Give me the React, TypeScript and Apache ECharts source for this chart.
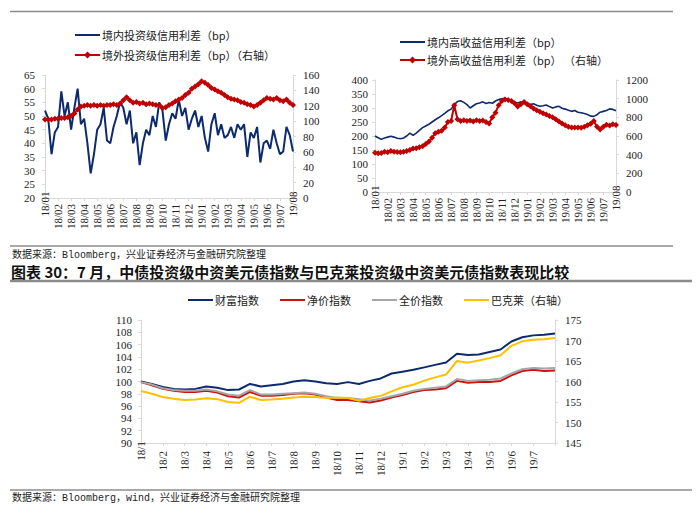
import React, { useEffect, useRef } from "react";
import * as echarts from "echarts";

const topMonthLabels = ["18/01","18/02","18/03","18/04","18/05","18/06","18/07","18/08","18/09","18/10","18/11","18/12","19/01","19/02","19/03","19/04","19/05","19/06","19/07","19/08"];
const bottomMonthLabels = ["18/1","18/2","18/3","18/4","18/5","18/6","18/7","18/8","18/9","18/10","18/11","18/12","19/1","19/2","19/3","19/4","19/5","19/6","19/7",""];

// weekly-ish (quarter month) values, top-left chart
const igDomestic = [52,49,36,44, 46,59,50,55, 45,53,60,47, 49,40,29,36, 45,47,53,41, 40,46,50,55, 53,47,52,40, 44,32,40,45, 43,50,46,55, 52,41,47,51, 49,56,50,53, 45,49,52,46, 50,42,37,47, 51,43,47,42, 43,46,42,47, 45,47,35,44, 42,46,33,40, 41,38,45,40, 36,37,46,43, 37];
const igOffshore = [102,102,102,103, 103,104,104,105, 107,110,115,119, 120,121,120,121, 120,121,120,121, 121,122,121,123, 127,131,127,124, 125,123,124,122, 123,122,121,121, 117,118,121,123, 126,128,130,134, 137,142,145,148, 152,150,147,143, 141,139,137,134, 131,129,128,127, 125,124,122,121, 119,121,124,127, 130,129,128,130, 127,126,128,124, 121];

// top-right chart
const hyDomestic = [200,194,188,193, 196,199,196,192, 190,193,200,210, 202,210,220,230, 236,242,250,258, 265,273,281,290, 296,312,323,326, 320,312,300,308, 315,318,322,316, 320,317,325,330, 333,335,328,325, 320,318,322,316, 318,312,315,310, 306,308,311,305, 300,304,306,299, 296,292,288,291, 285,283,280,277, 271,270,276,285, 288,291,297,295, 290];
const hyOffshore = [420,415,418,430, 425,440,430,428, 425,432,440,450, 465,470,480,490, 515,540,580,630, 645,655,690,750, 760,930,780,760, 770,760,765,755, 770,760,765,750, 735,800,850,930, 975,990,985,975, 950,915,940,965, 940,920,895,875, 860,845,830,815, 800,780,755,735, 715,700,690,692, 690,688,700,715, 730,760,700,670, 700,720,712,725, 718];

// bottom chart (half month)
const wealthIndex = [100.0,99.6,99.1,98.8,98.7,98.8,99.2,99.0,98.6,98.7,99.6,99.2,99.4,99.6,100.0,100.2,100.0,99.7,99.6,99.9,99.6,100.1,100.5,101.3,101.6,101.9,102.3,102.7,103.1,104.5,104.3,104.4,104.8,105.2,106.5,107.2,107.5,107.6,107.8];
const netPriceIndex = [99.9,99.4,98.8,98.5,98.3,98.3,98.5,98.2,97.6,97.4,98.3,97.7,97.7,97.8,98.0,98.1,97.9,97.4,97.0,97.0,96.8,96.6,96.9,97.4,97.8,98.3,98.6,98.7,98.9,100.1,99.8,99.9,99.9,100.1,101.0,101.7,101.9,101.7,101.8];
const fullPriceIndex = [99.9,99.5,98.9,98.6,98.5,98.5,98.7,98.4,97.9,97.7,98.6,97.9,97.9,98.0,98.1,98.2,98.0,97.6,97.3,97.3,97.1,96.9,97.2,97.6,98.0,98.5,98.8,99.0,99.2,100.4,100.1,100.2,100.3,100.5,101.3,102.0,102.2,102.1,102.2];
const barclaysIndex = [157.7,157.0,156.2,155.8,155.5,155.6,155.9,155.7,155.0,154.8,156.3,155.5,155.6,155.8,156.1,156.3,156.2,156.0,156.1,156.0,155.3,156.0,156.5,157.6,158.6,159.2,160.2,161.0,161.7,165.0,164.6,165.1,165.7,166.4,168.7,169.8,170.2,170.3,170.6];

const pairs = (arr: number[], step: number) => arr.map((v, i) => [i * step, v]);

const NAVY = "#0d2a6e";
const RED = "#c00000";
const RED2 = "#cc1111";
const GRAY = "#a6a6a6";
const YELLOW = "#ffc000";
const AXIS = "#d9d9d9";
const SERIF = '"Liberation Serif", serif';
const CJK = '"Noto Sans CJK SC", sans-serif';

// hidden value axis that positions the data
function dataAxisX(gridIndex: number) {
  return { type: "value", gridIndex, min: 0, max: 19, show: false, axisLabel: { show: false }, splitLine: { show: false } };
}
// visible month axis that draws line, ticks and labels
function monthAxisX(gridIndex: number, labels: string[], labelMargin: number) {
  return {
    type: "category", gridIndex, data: labels, boundaryGap: false, position: "bottom",
    axisLine: { show: true, lineStyle: { color: AXIS } },
    axisTick: { show: true, length: 3, interval: 0, lineStyle: { color: AXIS } },
    splitLine: { show: false },
    axisLabel: {
      show: true, rotate: 89.9, interval: 0, margin: labelMargin, fontFamily: SERIF, fontSize: 11, color: "#222",
      showMinLabel: true, showMaxLabel: true, hideOverlap: false, alignMaxLabel: "center", alignMinLabel: "center",
    },
  };
}
function yAxis(gridIndex: number, min: number, max: number, interval: number, position: string, margin: number) {
  return {
    type: "value", gridIndex, min, max, interval, position,
    axisLine: { show: true, lineStyle: { color: AXIS } },
    axisTick: { show: true, length: 3, lineStyle: { color: AXIS } },
    splitLine: { show: false },
    axisLabel: { margin, fontFamily: SERIF, fontSize: 11, color: "#222", showMinLabel: true, showMaxLabel: true, hideOverlap: false, formatter: (v: number) => String(v) },
  };
}

function legendLine(x: number, y: number, color: string, label: string, diamond: boolean) {
  const els: any[] = [
    { type: "line", shape: { x1: x, y1: y, x2: x + 25, y2: y }, style: { stroke: color, lineWidth: 2 } },
  ];
  if (diamond) {
    els.push({ type: "polygon", shape: { points: [[x + 12.5, y - 3.5], [x + 16, y], [x + 12.5, y + 3.5], [x + 9, y]] }, style: { fill: color } });
  }
  els.push({ type: "text", style: { text: label, x: x + 27, y, font: `11px ${CJK}`, fill: "#222", verticalAlign: "middle", textVerticalAlign: "middle" } });
  return els;
}

export default function App() {
  const ref = useRef<HTMLDivElement>(null);
  useEffect(() => {
    const chart = echarts.init(ref.current!, undefined, { renderer: "svg" });
    const option: any = {
      animation: false,
      backgroundColor: "#fff",
      grid: [
        { left: 45, top: 75, width: 248, height: 123, containLabel: false, outerBoundsMode: "none" },
        { left: 375, top: 80, width: 241, height: 112, containLabel: false, outerBoundsMode: "none" },
        { left: 141, top: 320, width: 414, height: 123, containLabel: false, outerBoundsMode: "none" },
      ],
      xAxis: [
        dataAxisX(0),
        dataAxisX(1),
        dataAxisX(2),
        monthAxisX(0, topMonthLabels, 6),
        monthAxisX(1, topMonthLabels, 6),
        monthAxisX(2, bottomMonthLabels, 8),
      ],
      yAxis: [
        yAxis(0, 20, 65, 5, "left", 10),
        yAxis(0, 0, 160, 20, "right", 10),
        yAxis(1, 0, 400, 50, "left", 7),
        yAxis(1, 0, 1200, 200, "right", 10),
        yAxis(2, 90, 110, 2, "left", 9),
        yAxis(2, 145, 175, 5, "right", 10),
      ],
      series: [
        { name: "境内投资级信用利差（bp）", type: "line", xAxisIndex: 0, yAxisIndex: 0, data: pairs(igDomestic, 0.25), symbol: "none", lineStyle: { color: NAVY, width: 2 }, itemStyle: { color: NAVY } },
        { name: "境外投资级信用利差（bp）（右轴）", type: "line", xAxisIndex: 0, yAxisIndex: 1, data: pairs(igOffshore, 0.25), symbol: "diamond", symbolSize: 6, lineStyle: { color: RED, width: 2 }, itemStyle: { color: RED } },
        { name: "境内高收益信用利差（bp）", type: "line", xAxisIndex: 1, yAxisIndex: 2, data: pairs(hyDomestic, 0.25), symbol: "none", lineStyle: { color: NAVY, width: 1.6 }, itemStyle: { color: NAVY } },
        { name: "境外高收益信用利差（bp） （右轴）", type: "line", xAxisIndex: 1, yAxisIndex: 3, data: pairs(hyOffshore, 0.25), symbol: "diamond", symbolSize: 6, lineStyle: { color: RED, width: 2 }, itemStyle: { color: RED } },
        { name: "财富指数", type: "line", xAxisIndex: 2, yAxisIndex: 4, data: pairs(wealthIndex, 0.5), symbol: "none", lineStyle: { color: NAVY, width: 2 }, itemStyle: { color: NAVY } },
        { name: "净价指数", type: "line", xAxisIndex: 2, yAxisIndex: 4, data: pairs(netPriceIndex, 0.5), symbol: "none", lineStyle: { color: RED2, width: 2 }, itemStyle: { color: RED2 } },
        { name: "全价指数", type: "line", xAxisIndex: 2, yAxisIndex: 4, data: pairs(fullPriceIndex, 0.5), symbol: "none", lineStyle: { color: GRAY, width: 2 }, itemStyle: { color: GRAY } },
        { name: "巴克莱（右轴）", type: "line", xAxisIndex: 2, yAxisIndex: 5, data: pairs(barclaysIndex, 0.5), symbol: "none", lineStyle: { color: YELLOW, width: 2 }, itemStyle: { color: YELLOW } },
      ],
      graphic: [
        { type: "line", shape: { x1: 10, y1: 11.5, x2: 673, y2: 11.5 }, style: { stroke: "#8c8c8c", lineWidth: 1.5 } },
        ...legendLine(75, 35, NAVY, "境内投资级信用利差（bp）", false),
        ...legendLine(75, 55, RED, "境外投资级信用利差（bp）（右轴）", true),
        ...legendLine(400, 42, NAVY, "境内高收益信用利差（bp）", false),
        ...legendLine(400, 60, RED, "境外高收益信用利差（bp） （右轴）", true),
        ...legendLine(188, 300, NAVY, "财富指数", false),
        ...legendLine(280, 300, RED2, "净价指数", false),
        ...legendLine(372, 300, GRAY, "全价指数", false),
        ...legendLine(464, 300, YELLOW, "巴克莱（右轴）", false),
        { type: "line", shape: { x1: 10, y1: 246, x2: 673, y2: 246 }, style: { stroke: "#8c8c8c", lineWidth: 1.5 } },
        { type: "text", style: { text: "数据来源：Bloomberg，兴业证券经济与金融研究院整理", x: 12, y: 255, font: '10px "Liberation Mono", "Noto Sans CJK SC", monospace', fill: "#222", verticalAlign: "middle", textVerticalAlign: "middle" } },
        { type: "text", style: { text: "图表 30：7 月，中债投资级中资美元债指数与巴克莱投资级中资美元债指数表现比较", x: 11, y: 271, font: 'bold 15px "Noto Sans CJK SC", sans-serif', fill: "#111", verticalAlign: "middle", textVerticalAlign: "middle" } },
        { type: "line", shape: { x1: 10, y1: 281, x2: 692, y2: 281 }, style: { stroke: "#8c8c8c", lineWidth: 2.5 } },
        { type: "line", shape: { x1: 10, y1: 490, x2: 692, y2: 490 }, style: { stroke: "#8c8c8c", lineWidth: 1.5 } },
        { type: "text", style: { text: "数据来源：Bloomberg，wind，兴业证券经济与金融研究院整理", x: 12, y: 498, font: '10px "Liberation Mono", "Noto Sans CJK SC", monospace', fill: "#222", verticalAlign: "middle", textVerticalAlign: "middle" } },
      ],
    };
    chart.setOption(option);
    return () => chart.dispose();
  }, []);
  return <div ref={ref} style={{ position: "absolute", left: 0, top: 0, width: 700, height: 515 }} />;
}
